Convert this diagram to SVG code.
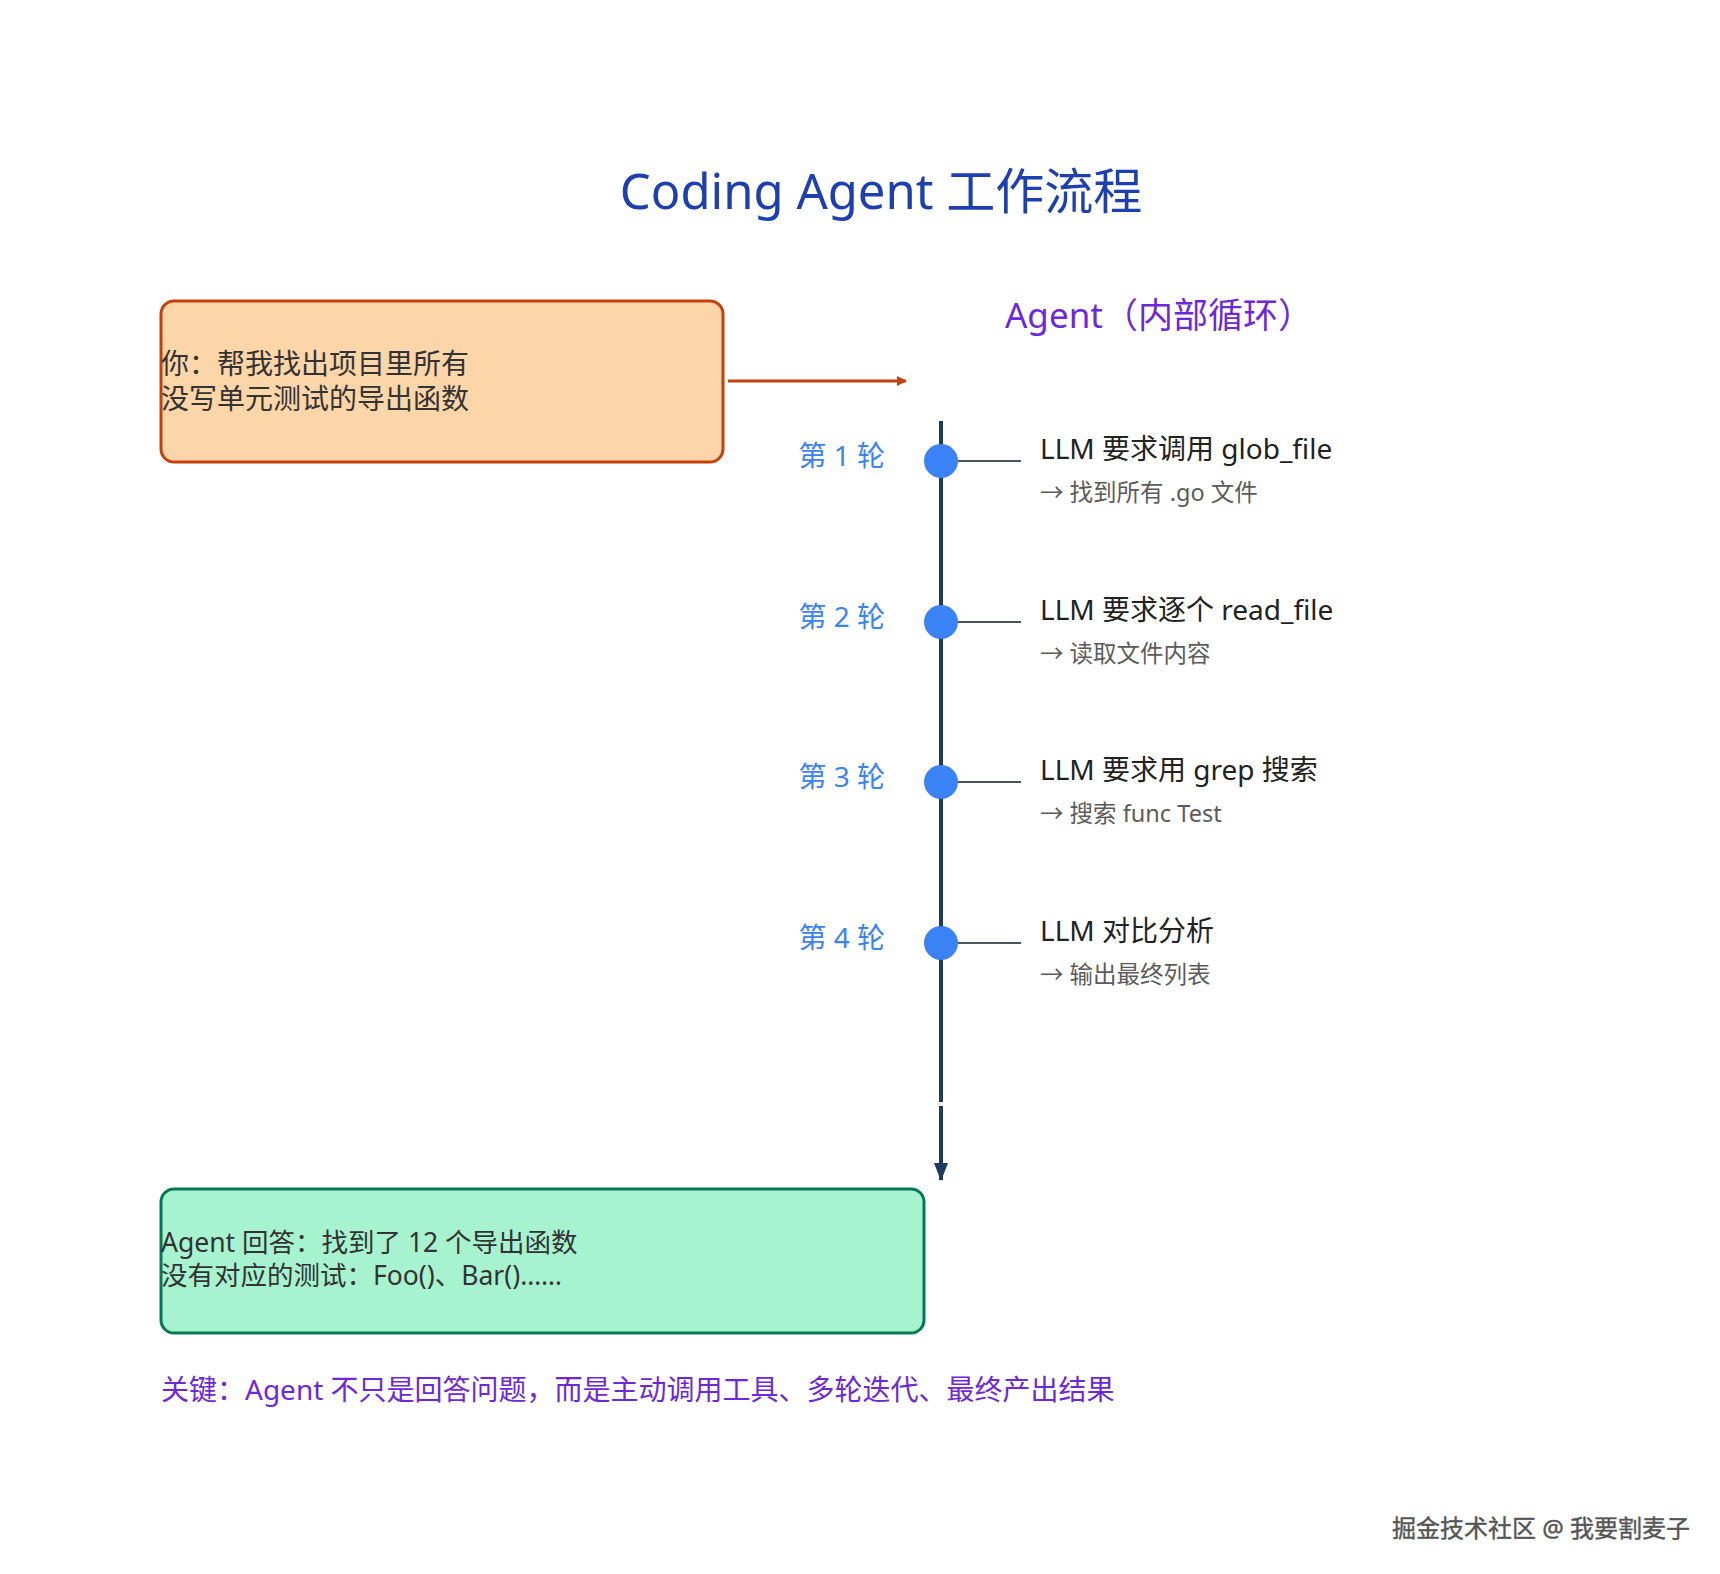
<svg xmlns="http://www.w3.org/2000/svg" width="1720" height="1574" viewBox="0 0 1720 1574">
<style>
text{font-family:"Noto Sans","Noto Sans CJK SC",sans-serif}
.lbl{font-size:28px;fill:#3b82f6;text-anchor:end}
.main{font-size:28px;fill:#222}
.sub{font-size:23.5px;fill:#5b5b5b}
.dot{fill:#3b82f6}
.br{stroke:#4b5563;stroke-width:2}
.bt{font-size:28px;fill:#333}
.bt2{font-size:26.5px;fill:#333}
</style>
<defs>
<marker id="ao" markerWidth="10" markerHeight="10" refX="9" refY="5" orient="auto" markerUnits="userSpaceOnUse" viewBox="0 0 10 10"><path d="M0,0 L10,5 L0,10 Z" fill="#c2410c"/></marker>
<marker id="an" markerWidth="14" markerHeight="18" refX="7" refY="17" orient="0" markerUnits="userSpaceOnUse" viewBox="0 0 14 18"><path d="M0,0 L14,0 L7,18 Z" fill="#1e3a5f"/></marker>
</defs>
<rect width="1720" height="1574" fill="#fff"/>
<text x="881" y="209" font-size="49" fill="#1e40af" text-anchor="middle">Coding Agent 工作流程</text>
<text x="1005" y="328" font-size="35" fill="#6d28d9">Agent（内部循环）</text>
<g id="user">
<rect x="161" y="301" width="562" height="161" rx="13" fill="#fcd5a8" stroke="#c2410c" stroke-width="3"/>
<text x="161" y="374" class="bt">你：帮我找出项目里所有</text>
<text x="161" y="409" class="bt">没写单元测试的导出函数</text>
</g>
<g id="connectors">
<line x1="728" y1="381" x2="906" y2="381" stroke="#c2410c" stroke-width="3" marker-end="url(#ao)"/>
<line x1="941" y1="421" x2="941" y2="1102" stroke="#1e3a5f" stroke-width="4"/>
<line x1="941" y1="1106" x2="941" y2="1180" stroke="#1e3a5f" stroke-width="4" marker-end="url(#an)"/>
<line x1="941" y1="461" x2="1021" y2="461" class="br"/>
<line x1="941" y1="622" x2="1021" y2="622" class="br"/>
<line x1="941" y1="782" x2="1021" y2="782" class="br"/>
<line x1="941" y1="943" x2="1021" y2="943" class="br"/>
</g>
<g id="round1"><circle cx="941" cy="461" r="17" class="dot"/><text x="885" y="466" class="lbl">第 1 轮</text><text x="1040" y="459" class="main">LLM 要求调用 glob_file</text><text x="1040" y="501" class="sub">→ 找到所有 .go 文件</text></g>
<g id="round2"><circle cx="941" cy="622" r="17" class="dot"/><text x="885" y="627" class="lbl">第 2 轮</text><text x="1040" y="620" class="main">LLM 要求逐个 read_file</text><text x="1040" y="662" class="sub">→ 读取文件内容</text></g>
<g id="round3"><circle cx="941" cy="782" r="17" class="dot"/><text x="885" y="787" class="lbl">第 3 轮</text><text x="1040" y="780" class="main">LLM 要求用 grep 搜索</text><text x="1040" y="822" class="sub">→ 搜索 func Test</text></g>
<g id="round4"><circle cx="941" cy="943" r="17" class="dot"/><text x="885" y="948" class="lbl">第 4 轮</text><text x="1040" y="941" class="main">LLM 对比分析</text><text x="1040" y="983" class="sub">→ 输出最终列表</text></g>
<g id="answer">
<rect x="161" y="1189" width="763" height="144" rx="13" fill="#a7f3d0" stroke="#047857" stroke-width="3"/>
<text x="161" y="1252" class="bt2">Agent 回答：找到了 12 个导出函数</text>
<text x="161" y="1285" class="bt2">没有对应的测试：Foo()、Bar()……</text>
</g>
<text x="161" y="1400" font-size="28" fill="#6d28d9">关键：Agent 不只是回答问题，而是主动调用工具、多轮迭代、最终产出结果</text>
<text x="1690" y="1537" font-size="24" fill="#555" text-anchor="end" stroke="#555" stroke-width="0.4">掘金技术社区 @ 我要割麦子</text>
</svg>
